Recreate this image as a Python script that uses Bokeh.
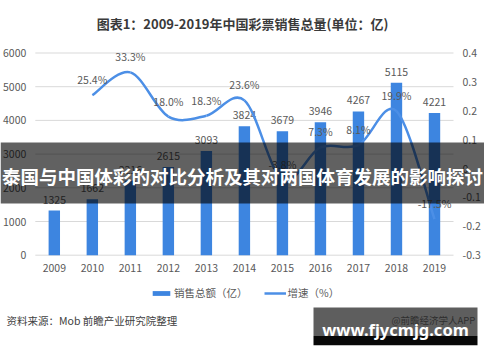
from bokeh.plotting import figure
from bokeh.models import (ColumnDataSource, Range1d, Legend, LegendItem, Label, BoxAnnotation)
from bokeh.core.properties import value
from bokeh.embed import file_html
from bokeh.resources import INLINE

# ---------------- data ----------------
years = ["2009", "2010", "2011", "2012", "2013", "2014", "2015", "2016", "2017", "2018", "2019"]
sales = [1325, 1662, 2216, 2615, 3093, 3824, 3679, 3946, 4267, 5115, 4221]
growth_years = ["2010", "2011", "2012", "2013", "2014", "2015", "2016", "2017", "2018", "2019"]
growth = [25.4, 33.3, 18.0, 18.3, 23.6, -3.8, 7.3, 8.1, 19.9, -17.5]
left_ticks = [0, 1000, 2000, 3000, 4000, 5000, 6000]
right_ticks = [-0.3, -0.2, -0.1, 0.0, 0.1, 0.2, 0.3, 0.4]
right_tick_labels = ["-0.3", "-0.2", "-0.1", "0", "0.1", "0.2", "0.3", "0.4"]

title_text = "图表1：2009-2019年中国彩票销售总量(单位：亿)"
bar_name = "销售总额（亿）"
line_name = "增速（%）"
banner_text = "泰国与中国体彩的对比分析及其对两国体育发展的影响探讨"
source_text = "资料来源：Mob 前瞻产业研究院整理"
wm_text = "www.fjycmjg.com"
wm_sub = "@前瞻经济学人APP"

FONT = "Noto Sans CJK SC"
BAR = "#3D85E0"
LINE = "#4C8FE6"
GREY = "#595959"

# ---------------- layout (canvas pixels, top-down) ----------------
W, H = 484, 346
L, R, T, B = 34.8, 453.0, 52.5, 254.7

xmin, xmax = -0.5, len(years) - 0.5
sx = (xmax - xmin) / (R - L)
ymin, ymax = left_ticks[0], left_ticks[-1]
sy = (ymax - ymin) / (B - T)
rmin, rmax = right_ticks[0], right_ticks[-1]
sr = (rmax - rmin) / (B - T)

p = figure(width=W, height=H,
           x_range=Range1d(xmin - L * sx, xmax + (W - R) * sx),
           y_range=Range1d(ymin - (H - B) * sy, ymax + T * sy),
           output_backend="svg", toolbar_location=None,
           x_axis_location=None, y_axis_location=None,
           min_border=0, min_border_left=0, min_border_right=0,
           min_border_top=0, min_border_bottom=0,
           outline_line_color=None, background_fill_color="white")
p.extra_y_ranges = {"right": Range1d(rmin - (H - B) * sr, rmax + T * sr)}
for g in p.grid:
    g.visible = False

xs = list(range(len(years)))

# gridlines
p.segment(x0=[xmin] * len(left_ticks), x1=[xmax] * len(left_ticks), y0=left_ticks, y1=left_ticks,
          line_color="#D9D9D9", line_width=1)

# bars + labels
src = ColumnDataSource(dict(x=xs, sales=sales, label=[str(v) for v in sales]))
bars = p.vbar(x="x", top="sales", width=0.3, source=src, fill_color=BAR, line_color=None)
p.text(x="x", y="sales", text="label", source=src, text_align="center", text_baseline="bottom",
       y_offset=-7, text_font=value(FONT), text_font_size="10.5px", text_color=GREY)

# smoothed growth line (Catmull-Rom -> Bezier, like Excel's smoothed line)
gx = [years.index(y) for y in growth_years]
gy = [g / 100.0 for g in growth]
n = len(gx)
x0, y0, x1, y1, cx0, cy0, cx1, cy1 = [], [], [], [], [], [], [], []
for i in range(n - 1):
    a = max(i - 1, 0)
    d = min(i + 2, n - 1)
    x0.append(gx[i]); y0.append(gy[i]); x1.append(gx[i + 1]); y1.append(gy[i + 1])
    cx0.append(gx[i] + (gx[i + 1] - gx[a]) / 6.0)
    cy0.append(gy[i] + (gy[i + 1] - gy[a]) / 6.0)
    cx1.append(gx[i + 1] - (gx[d] - gx[i]) / 6.0)
    cy1.append(gy[i + 1] - (gy[d] - gy[i]) / 6.0)
p.bezier(x0=x0, y0=y0, x1=x1, y1=y1, cx0=cx0, cy0=cy0, cx1=cx1, cy1=cy1,
         line_color=LINE, line_width=2.5, y_range_name="right")
p.text(x=gx, y=gy, text=[f"{g:.1f}%" for g in growth], y_range_name="right",
       text_align="center", text_baseline="bottom", y_offset=-8,
       text_font=value(FONT), text_font_size="10.5px", text_color=GREY)

# legend proxy for the line (kept off-canvas)
dummy = p.line(x=[gx[0], gx[0]], y=[rmin - 1, rmin - 1], line_color=LINE, line_width=2.5,
               y_range_name="right")

# tick labels (axes)
p.text(x=[xmin] * len(left_ticks), y=left_ticks, text=[str(t) for t in left_ticks],
       text_align="right", text_baseline="middle", x_offset=-9,
       text_font=value(FONT), text_font_size="10.5px", text_color=GREY)
p.text(x=[xmax] * len(right_ticks), y=right_ticks, text=right_tick_labels, y_range_name="right",
       text_align="left", text_baseline="middle", x_offset=9,
       text_font=value(FONT), text_font_size="10.5px", text_color=GREY)
p.text(x=xs, y=[ymin] * len(xs), text=years, text_align="center", text_baseline="middle",
       y_offset=13, text_font=value(FONT), text_font_size="10.5px", text_color=GREY)

legend = Legend(items=[LegendItem(label=bar_name, renderers=[bars]),
                       LegendItem(label=line_name, renderers=[dummy])],
                orientation="horizontal", location=(150, 46), glyph_width=22, glyph_height=6,
                label_standoff=2, spacing=16, margin=0, padding=0, label_height=14,
                border_line_color=None, background_fill_alpha=0,
                label_text_font=FONT, label_text_font_size="10.5px", label_text_color=GREY)
p.add_layout(legend)

# title and source (screen units: from frame bottom-left = canvas bottom-left)
p.add_layout(Label(x=242, y=H - 23, x_units="screen", y_units="screen", text=title_text,
                   text_align="center", text_baseline="middle", text_font=FONT,
                   text_font_size="13px", text_font_style="bold", text_color="#3A3A3A"))
p.add_layout(Label(x=6, y=H - 320, x_units="screen", y_units="screen", text=source_text,
                   text_align="left", text_baseline="middle", text_font=FONT,
                   text_font_size="10.5px", text_color="#404040"))

# banner overlay
p.add_layout(BoxAnnotation(left=0, right=W, top=H - 142, bottom=H - 203,
                           left_units="screen", right_units="screen",
                           top_units="screen", bottom_units="screen",
                           fill_color="black", fill_alpha=0.62, line_color=None))
p.add_layout(Label(x=242, y=H - 175, x_units="screen", y_units="screen", text=banner_text,
                   text_align="center", text_baseline="middle", text_font=FONT,
                   text_font_size="18.5px", text_font_style="bold", text_color="white"))

# watermark box
p.add_layout(BoxAnnotation(left=313, right=477, top=H - 307, bottom=H - 335.5,
                           left_units="screen", right_units="screen",
                           top_units="screen", bottom_units="screen",
                           fill_color="#5E5E5E", fill_alpha=1, line_color=None))
p.add_layout(BoxAnnotation(left=313, right=477, top=H - 335.5, bottom=H - 344.7,
                           left_units="screen", right_units="screen",
                           top_units="screen", bottom_units="screen",
                           fill_color="#080808", fill_alpha=1, line_color=None))
p.add_layout(Label(x=391, y=H - 319, x_units="screen", y_units="screen", text=wm_sub,
                   text_align="left", text_baseline="middle", text_font=FONT,
                   text_font_size="9.5px", text_color="#2E2E2E"))
p.add_layout(Label(x=395, y=H - 329, x_units="screen", y_units="screen", text=wm_text,
                   text_align="center", text_baseline="middle", text_font="Noto Sans",
                   text_font_size="16.5px", text_font_style="bold", text_color="white"))

open("out.html", "w").write(file_html(p, INLINE))
